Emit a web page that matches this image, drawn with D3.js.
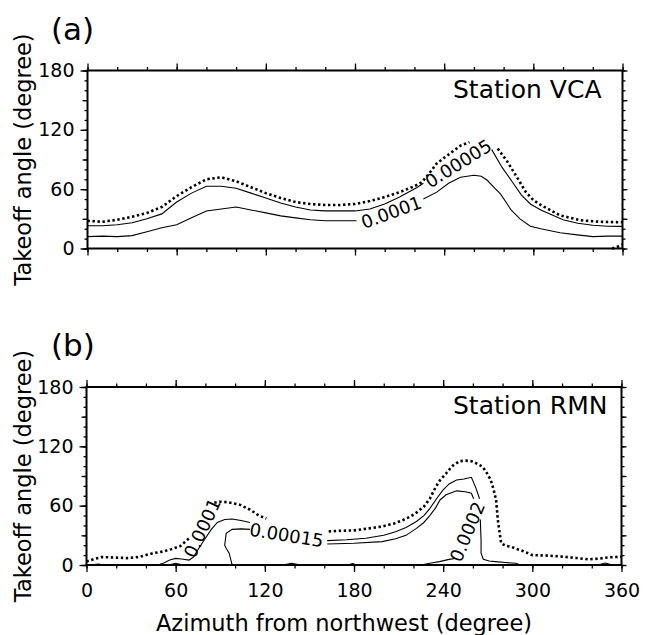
<!DOCTYPE html>
<html>
<head>
<meta charset="utf-8">
<script src="https://cdn.jsdelivr.net/npm/d3@7"></script>
<style>
  body { margin: 0; background: #fff; }
  text { font-family: "DejaVu Sans", Verdana, sans-serif; fill: #000; }
</style>
</head>
<body>
<svg id="fig" width="645" height="635"></svg>
<script>
// ---- data (azimuth in degree, takeoff angle in degree; null = gap for a label) ----
var azMajor = [0, 60, 120, 180, 240, 300, 360];
var angLabelTicks = [0, 60, 120, 180];

// Station VCA
var vcaDotAz  = [0,10,20,30,40,50,60,70,80,90,100,110,120,130,140,150,160,170,180,190,200,210,220,225,230,235,242,251,257,266,276,282,289,295,300,305,318,332,345,360];
var vcaDotAng = [28,27,29,32,36,42,53,62,70,72,68,62,56,51,47,45,44,44,45,48,52,57,63,67,76,86,94,104,107.5,null,101,89,72,57,49,44,33.5,28.5,27,26.5];
var vcaMidAz  = [0,10,20,30,40,50,60,70,80,90,100,110,120,130,140,150,160,170,180,190,200,210,222,226,250,272,279,286,292,298,305,320,330,340,350,360];
var vcaMidAng = [23,23,24,26,30,35,47,56,63,63,61,56,51,46,42,39,38,38,38,40,45,52,62,66,null,100,82,67,54,45,39,29,25.5,23.5,22.5,22.4];
var vcaLowAz  = [0,10,20,30,40,50,60,70,80,90,100,110,120,130,140,150,160,170,181,200,226,235,243,251,260,265,269,274,278,282,285,291,298,305,318,331,340,350,360];
var vcaLowAng = [12,12.5,12,13,17,21,24,31,38,40,42,39,36,33,31,29,28,28,28,null,50,57,66,72,74,73,69,61,55,46,39,30,22.5,20,16,13.5,12,12.5,12.5];
var vcaEdgeAz  = [353,357,360];
var vcaEdgeAng = [0,2,4];
var vcaLabels = [
  {text: "0.00005", az: 249.5, ang: 86, rot: -32},
  {text: "0.0001",  az: 204.4, ang: 36.7, rot: -20}
];

// Station RMN
var rmnDotAz  = [0,5,10,20,27,35,40,45,51,57,63,69,78,86,90,95,103,110,116,121,140,163,170,180,190,199,207,213,218,222,227,231,234,237,242,246,251,255,259,262,266.5,269,272,274,275.6,276.8,279,282,285.6,290,294,300,310,320,330,338,345,352,360];
var rmnDotAng = [3.4,6,8,7.5,7,8,10,12,13.5,16,19,27,null,63,64,63.5,61,56,50,47,null,34,34.5,35,37,39,42,45.5,49,53,59,67,76,84,92.7,100,105,105.5,105,103,99.4,94,86,76,65.7,45.5,22,19.5,18.5,16,14,10,9.5,8.5,7,5.7,6.5,7.8,8.4];
var rmnAAz  = [48,52,56,60,64,69,72,76,80,84,88,93,98,104,110,136,162,175,188,200,208,215,222,227,231,236,240,244,249,254,259,262,264.5,265,265,265.5,265.5,267,271,275,282,289,292];
var rmnAAng = [0,2,5,6.7,6,5,8,18,27,36,43,46,46.5,45,43,null,24.6,25.5,27,30,33.7,38,44,50,57,68,76,82,86,87,88.7,78,67,null,46,25,12,5.8,4,3.4,2.5,1.7,0];
var rmnBAz  = [98,97,96,94,93,93.5,94,98,104,110,136,162,180,199,208,215,222,227,231,235,238,242,249,255,259,260.5,255,248,244,237.5,231,225];
var rmnBAng = [0,6,12,17,20,26,32,36,36.5,36,null,21.2,22,23.6,26.5,30,37,43,50,58,66,71,75,74,72.5,67,null,6.5,5.7,3.4,1.7,0];
var rmnBumpAz  = [3,8,12,null,55,60,65,null,132,138,144,null,176,179,182,null,344,349,354];
var rmnBumpAng = [0,1,0,null,0,1.8,0,null,0,1.8,0,null,0,1.5,0,null,0,2,0];
var rmnLabels = [
  {text: "0.0001",  az: 77.9,  ang: 37.4, rot: -65},
  {text: "0.00015", az: 134.6, ang: 30.3, rot: 9},
  {text: "0.0002",  az: 256.2, ang: 33.7, rot: -67}
];

function pairs(az, ang) {
  return az.map(function(a, i) { return [a, ang[i]]; });
}

var svg = d3.select("#fig");
svg.append("rect").attr("width", 645).attr("height", 635).attr("fill", "#fff");

function drawPanel(box, series, labels, station, tag, showX) {
  var x = d3.scaleLinear().domain([0, 360]).range([box.left, box.right]);
  var y = d3.scaleLinear().domain([0, 180]).range([box.bottom, box.top]);
  var g = svg.append("g");

  var line = d3.line()
    .defined(function(d) { return d[0] != null && d[1] != null; })
    .x(function(d) { return x(d[0]); })
    .y(function(d) { return y(d[1]); });

  series.forEach(function(s) {
    g.append("path")
      .attr("d", line(pairs(s.az, s.ang)))
      .attr("fill", "none")
      .attr("stroke", "#000")
      .attr("stroke-width", s.dotted ? 2.6 : 1.1)
      .attr("stroke-dasharray", s.dotted ? "2.4,2.6" : null);
  });

  labels.forEach(function(l) {
    var px = x(l.az), py = y(l.ang);
    g.append("text")
      .attr("transform", "translate(" + px + "," + py + ") rotate(" + l.rot + ")")
      .attr("text-anchor", "middle")
      .attr("dy", "0.36em")
      .attr("font-size", 18)
      .text(l.text);
  });

  // ticks
  function ax(axisFn, scale, vals, size, pos, fmt, pad) {
    var a = axisFn(scale).tickValues(vals).tickSize(size).tickPadding(pad || 3)
      .tickFormat(fmt || function() { return ""; });
    var gg = g.append("g").attr("transform", pos).call(a);
    gg.select(".domain").remove();
    gg.selectAll("line").attr("stroke-width", 1.3);
    gg.selectAll("text").attr("font-size", 19).attr("font-family", "DejaVu Sans, Verdana, sans-serif");
    return gg;
  }
  var xMinor = d3.range(0, 361, 20), yMinor = d3.range(0, 181, 10), yMid = d3.range(0, 181, 30);
  ax(d3.axisBottom, x, xMinor, 3.5, "translate(0," + box.bottom + ")");
  ax(d3.axisBottom, x, azMajor, 7, "translate(0," + box.bottom + ")", showX ? d3.format("d") : null, 12);
  ax(d3.axisTop, x, xMinor, 3.5, "translate(0," + box.top + ")");
  ax(d3.axisTop, x, azMajor, 7, "translate(0," + box.top + ")");
  ax(d3.axisLeft, y, yMinor, 3, "translate(" + box.left + ",0)");
  ax(d3.axisLeft, y, yMid, 5, "translate(" + box.left + ",0)");
  ax(d3.axisLeft, y, angLabelTicks, 7, "translate(" + box.left + ",0)", d3.format("d"), 6);
  ax(d3.axisRight, y, yMinor, 3, "translate(" + box.right + ",0)");
  ax(d3.axisRight, y, yMid, 5, "translate(" + box.right + ",0)");

  g.append("rect")
    .attr("x", box.left).attr("y", box.top)
    .attr("width", box.right - box.left).attr("height", box.bottom - box.top)
    .attr("fill", "none").attr("stroke", "#000").attr("stroke-width", 2);

  g.append("text").attr("x", 453).attr("y", box.top + 27)
    .attr("font-size", 25).text(station);

  g.append("text").attr("x", 51).attr("y", box.top - 31)
    .attr("font-size", 31).text(tag);

  g.append("text")
    .attr("transform", "translate(31," + (box.top + box.bottom) / 2 + ") rotate(-90)")
    .attr("text-anchor", "middle")
    .attr("font-size", 22.5)
    .text("Takeoff angle (degree)");
}

drawPanel({left: 87.5, right: 622.5, top: 70.5, bottom: 248.5}, [
  {az: vcaDotAz, ang: vcaDotAng, dotted: true},
  {az: vcaMidAz, ang: vcaMidAng},
  {az: vcaLowAz, ang: vcaLowAng},
  {az: vcaEdgeAz, ang: vcaEdgeAng, dotted: true}
], vcaLabels, "Station VCA", "(a)", false);

drawPanel({left: 86.5, right: 621.5, top: 387, bottom: 565}, [
  {az: rmnDotAz, ang: rmnDotAng, dotted: true},
  {az: rmnAAz, ang: rmnAAng},
  {az: rmnBAz, ang: rmnBAng},
  {az: rmnBumpAz, ang: rmnBumpAng}
], rmnLabels, "Station RMN", "(b)", true);

svg.append("text")
  .attr("x", 344).attr("y", 631)
  .attr("text-anchor", "middle")
  .attr("font-size", 22.5)
  .text("Azimuth from northwest (degree)");
</script>
</body>
</html>
